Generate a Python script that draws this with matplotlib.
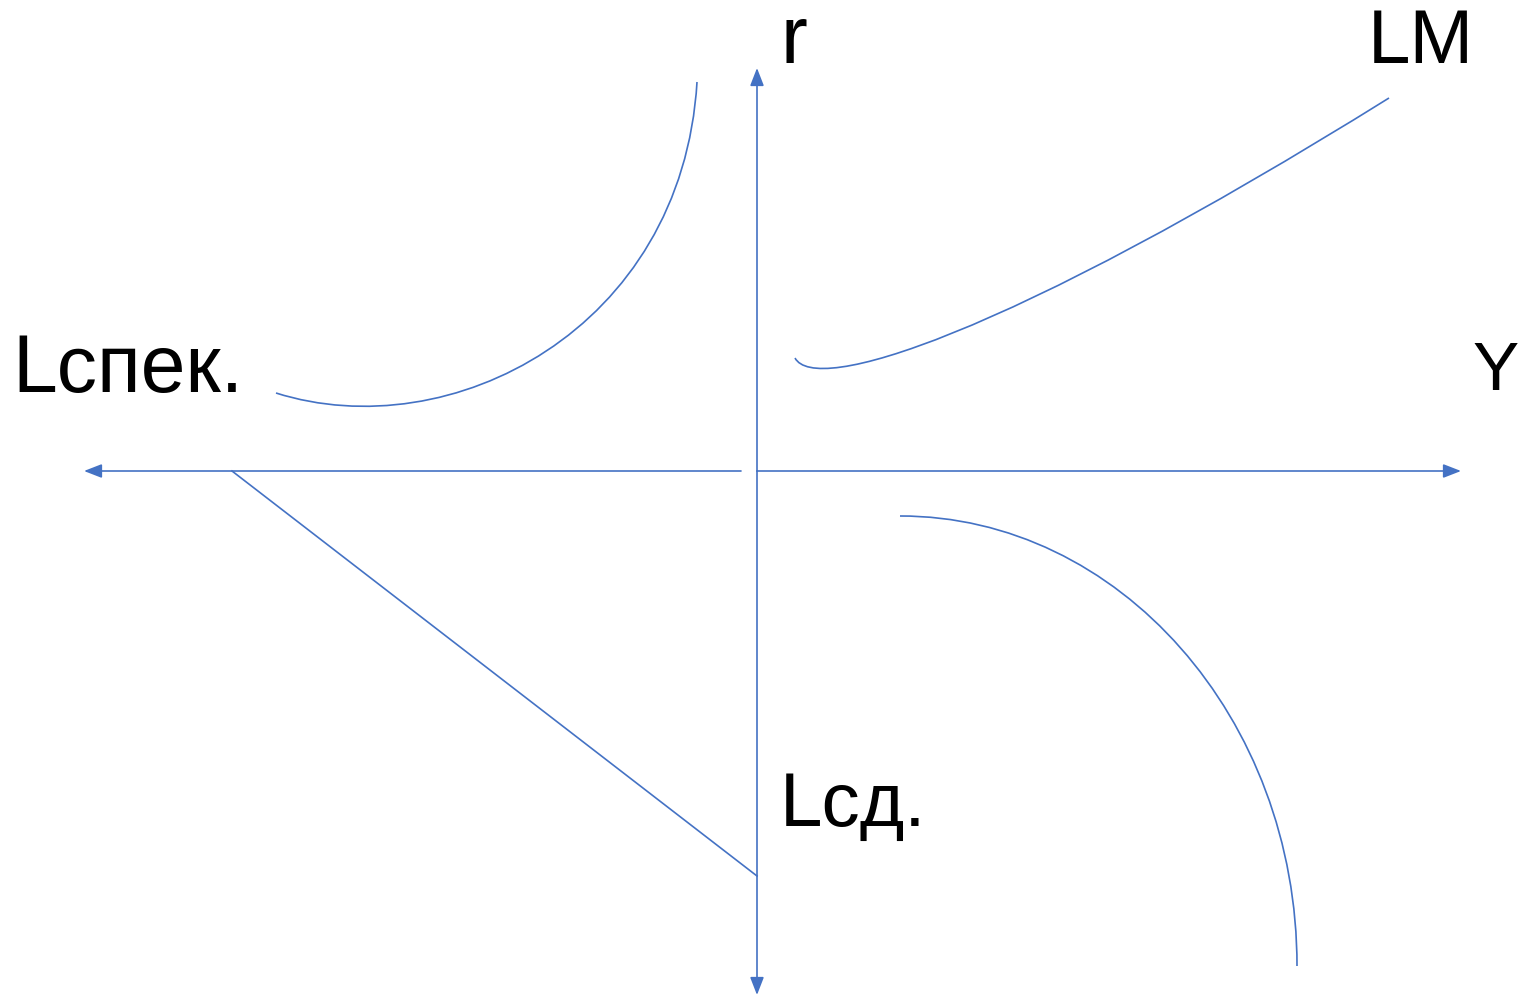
import matplotlib.pyplot as plt
from matplotlib.path import Path
from matplotlib.patches import PathPatch, FancyArrowPatch

W, H = 1518, 996
blue = '#4472C4'

# axes of the diagram (pixel coords, y down)
y_axis_x = 757
x_axis_y = 471
x_left_end = [741, 84]
x_right_end = [757, 1461]
y_top_end = [471, 68]
y_bot_end = [471, 995]

# straight line in lower-left quadrant
lcd_x = [232, 757]
lcd_y = [471, 876]

# curves as cubic bezier control points
lspek_curve = [(276, 393), (450, 448), (682, 330), (697, 82)]
lm_curve = [(795, 358), (815, 395), (1000, 340), (1389, 98)]
ys_curve = [(900, 516), (1119, 516), (1297, 718), (1297, 966)]

labels = ['r', 'LM', 'Lспек.', 'Y', 'Lсд.']
label_x = [780, 1368, 12, 1473, 780]
label_y = [63, 63, 392, 390, 826]
label_size = [58, 55, 58, 50, 55]

fig = plt.figure(figsize=(W / 100, H / 100), dpi=100)
ax = fig.add_axes([0, 0, 1, 1])
ax.set_xlim(0, W)
ax.set_ylim(H, 0)
ax.axis('off')

def arrow(p0, p1):
    a = FancyArrowPatch(p0, p1, arrowstyle='-|>,head_length=0.9,head_width=0.35',
                        mutation_scale=12, color=blue, lw=1.2, shrinkA=0, shrinkB=0)
    ax.add_patch(a)

arrow((x_left_end[0], x_axis_y), (x_left_end[1], x_axis_y))
arrow((x_right_end[0], x_axis_y), (x_right_end[1], x_axis_y))
arrow((y_axis_x, y_top_end[0]), (y_axis_x, y_top_end[1]))
arrow((y_axis_x, y_bot_end[0]), (y_axis_x, y_bot_end[1]))

ax.plot(lcd_x, lcd_y, color=blue, lw=1.2)

codes = [Path.MOVETO, Path.CURVE4, Path.CURVE4, Path.CURVE4]
for pts in [lspek_curve, lm_curve, ys_curve]:
    ax.add_patch(PathPatch(Path(pts, codes), fill=False, edgecolor=blue, lw=1.2))

for t, x, y, s in zip(labels, label_x, label_y, label_size):
    ax.text(x, y, t, fontsize=s, family='Liberation Sans', ha='left', va='baseline', color='black')

fig.savefig('out.png', dpi=100)
